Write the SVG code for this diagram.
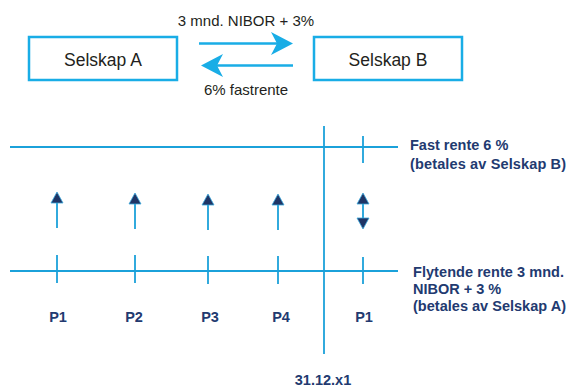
<svg xmlns="http://www.w3.org/2000/svg" width="570" height="387" viewBox="0 0 570 387">
<style>
.box{fill:#fff;stroke:#19ade6;stroke-width:2.5}
.bt{font-family:"Liberation Sans",Arial,sans-serif;font-size:17.5px;fill:#231f20;text-anchor:middle}
.lt{font-family:"Liberation Sans",Arial,sans-serif;font-size:15px;fill:#231f20;text-anchor:middle}
.ln{stroke:#1ba1da;stroke-width:1.8;fill:none}
.big{stroke:#19ade6;stroke-width:2.5;fill:none}
.nv{font-family:"Liberation Sans",Arial,sans-serif;font-weight:bold;font-size:14.5px;fill:#223a70}
.c{text-anchor:middle}
.hd{fill:#1f3566;stroke:#3aa7dc;stroke-width:0.8}
</style>
<g id="selskapA"><rect class="box" x="29" y="37" width="148" height="43"/><text class="bt" x="103" y="66">Selskap A</text></g>
<g id="selskapB"><rect class="box" x="314" y="37" width="148" height="43"/><text class="bt" x="388" y="66">Selskap B</text></g>
<g id="connectors">
<line class="big" x1="199" y1="43.5" x2="280" y2="43.5"/>
<polygon fill="#19ade6" points="293,43.5 271,32 277,43.5 271,55"/>
<line class="big" x1="214" y1="65.5" x2="293" y2="65.5"/>
<polygon fill="#19ade6" points="201,65.5 223,54 217,65.5 223,77"/>
<line class="ln" x1="10" y1="147" x2="398" y2="147"/>
<line class="ln" x1="10" y1="271" x2="398" y2="271"/>
<line class="ln" x1="324" y1="126" x2="324" y2="354"/>
<line class="ln" x1="57" y1="255" x2="57" y2="283"/>
<line class="ln" x1="135" y1="255" x2="135" y2="283"/>
<line class="ln" x1="208" y1="256" x2="208" y2="284"/>
<line class="ln" x1="278" y1="256" x2="278" y2="284"/>
<line class="ln" x1="363" y1="257" x2="363" y2="284"/>
<line class="ln" x1="363" y1="136" x2="363" y2="163"/>
<line class="ln" x1="57" y1="200" x2="57" y2="228"/>
<polygon class="hd" points="57,192 51,203 63,203"/>
<line class="ln" x1="135" y1="201" x2="135" y2="229"/>
<polygon class="hd" points="135,193 129,204 141,204"/>
<line class="ln" x1="208" y1="202" x2="208" y2="230"/>
<polygon class="hd" points="208,194 202,205 214,205"/>
<line class="ln" x1="278" y1="202" x2="278" y2="230"/>
<polygon class="hd" points="278,194 272,205 284,205"/>
<line class="ln" x1="363" y1="202" x2="363" y2="220"/>
<polygon class="hd" points="363,193 357,204 369,204"/>
<polygon class="hd" points="363,229 357,218 369,218"/>
</g>
<g id="labels">
<text class="lt" x="246" y="26">3 mnd. NIBOR + 3%</text>
<text class="lt" x="246" y="95">6% fastrente</text>
<text class="nv c" x="58" y="322">P1</text>
<text class="nv c" x="134" y="322">P2</text>
<text class="nv c" x="210" y="322">P3</text>
<text class="nv c" x="281" y="322">P4</text>
<text class="nv c" x="364" y="322">P1</text>
<text class="nv c" x="323" y="385">31.12.x1</text>
<text class="nv" x="410" y="150">Fast rente 6 %</text>
<text class="nv" x="410" y="169" textLength="156">(betales av Selskap B)</text>
<text class="nv" x="413" y="277" textLength="151">Flytende rente 3 mnd.</text>
<text class="nv" x="413" y="294">NIBOR + 3 %</text>
<text class="nv" x="413" y="311" textLength="153">(betales av Selskap A)</text>
</g>
</svg>
